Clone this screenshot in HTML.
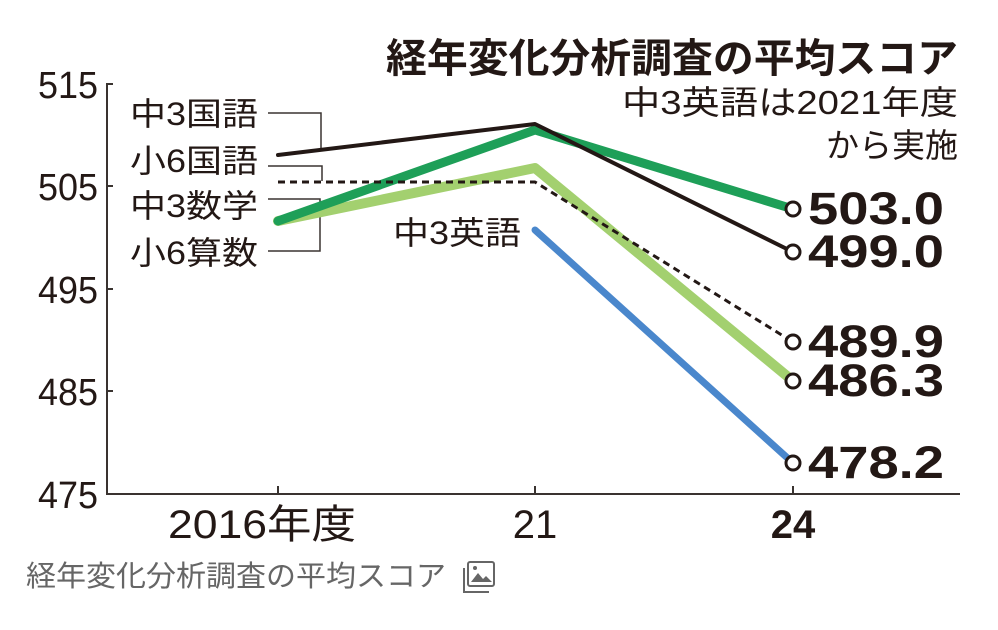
<!DOCTYPE html>
<html><head><meta charset="utf-8"><style>
body{margin:0;background:#fff;}
svg{display:block;font-family:"Liberation Sans","Noto Sans CJK JP",sans-serif;}
</style></head><body>
<svg width="998" height="630" viewBox="0 0 998 630">
<rect width="998" height="630" fill="#fff"/>
<!-- title -->
<text x="958" y="72" text-anchor="end" font-size="40" font-weight="bold" fill="#231815" textLength="572" lengthAdjust="spacingAndGlyphs">経年変化分析調査の平均スコア</text>
<text x="958" y="114" text-anchor="end" font-size="33" fill="#231815" textLength="336" lengthAdjust="spacingAndGlyphs">中3英語は2021年度</text>
<text x="958" y="157" text-anchor="end" font-size="33" fill="#231815">から実施</text>
<!-- axes -->
<g stroke="#3a3330" stroke-width="2" fill="none">
<path d="M113 84 H107 V494 H960"/>
<path d="M107 186 H113 M107 289 H113 M107 391 H113"/>
<path d="M278 494 V486 M535 494 V486 M793 494 V486"/>
</g>
<g font-size="38" fill="#231815" text-anchor="end">
<text x="98" y="98" textLength="60" lengthAdjust="spacingAndGlyphs">515</text>
<text x="98" y="200" textLength="60" lengthAdjust="spacingAndGlyphs">505</text>
<text x="98" y="303" textLength="60" lengthAdjust="spacingAndGlyphs">495</text>
<text x="98" y="405" textLength="60" lengthAdjust="spacingAndGlyphs">485</text>
<text x="98" y="508" textLength="60" lengthAdjust="spacingAndGlyphs">475</text>
</g>
<g font-size="40" fill="#231815" text-anchor="middle">
<text x="262" y="538" textLength="188" lengthAdjust="spacingAndGlyphs">2016年度</text>
<text x="535" y="538">21</text>
<text x="793" y="538" font-weight="bold">24</text>
</g>
<!-- legend labels -->
<g font-size="32" fill="#231815">
<text x="130" y="125" textLength="128" lengthAdjust="spacingAndGlyphs">中3国語</text>
<text x="130" y="172" textLength="128" lengthAdjust="spacingAndGlyphs">小6国語</text>
<text x="130" y="217" textLength="128" lengthAdjust="spacingAndGlyphs">中3数学</text>
<text x="130" y="264" textLength="128" lengthAdjust="spacingAndGlyphs">小6算数</text>
<text x="393" y="244" textLength="128" lengthAdjust="spacingAndGlyphs">中3英語</text>
</g>
<g stroke="#3a3330" stroke-width="1.5" fill="none">
<path d="M268 113 H321 V148"/>
<path d="M268 166 H322 V181"/>
<path d="M268 199 H320 V206"/>
<path d="M268 251 H320 V216"/>
</g>
<!-- series -->
<g fill="none" stroke-linecap="round" stroke-linejoin="round">
<polyline points="278,221 535,168 793,381" stroke="#a3d06f" stroke-width="10"/>
<polyline points="278,221 535,130 793,209" stroke="#1e9f58" stroke-width="9"/>
<polyline points="278,182 535,182 793,342" stroke="#231815" stroke-width="3" stroke-dasharray="7,5" stroke-linecap="butt"/>
<polyline points="278,155 535,124 793,252" stroke="#231815" stroke-width="4"/>
<polyline points="535,230 793,463" stroke="#4a87cc" stroke-width="7"/>
</g>
<g fill="#fff" stroke="#231815" stroke-width="3">
<circle cx="793" cy="209" r="7"/>
<circle cx="793" cy="252" r="7"/>
<circle cx="793" cy="342" r="7"/>
<circle cx="793" cy="381" r="7"/>
<circle cx="793" cy="463" r="7"/>
</g>
<g font-size="45" font-weight="bold" fill="#231815">
<text x="808" y="224" textLength="136" lengthAdjust="spacingAndGlyphs">503.0</text>
<text x="808" y="267" textLength="136" lengthAdjust="spacingAndGlyphs">499.0</text>
<text x="808" y="357" textLength="136" lengthAdjust="spacingAndGlyphs">489.9</text>
<text x="808" y="396" textLength="136" lengthAdjust="spacingAndGlyphs">486.3</text>
<text x="808" y="478" textLength="136" lengthAdjust="spacingAndGlyphs">478.2</text>
</g>
<!-- caption -->
<text x="26" y="586" font-size="29" fill="#666" textLength="420" lengthAdjust="spacingAndGlyphs">経年変化分析調査の平均スコア</text>
<g fill="none" stroke="#666" stroke-width="2">
<rect x="468" y="562" width="26" height="24" rx="2"/>
<path d="M464 568 V592 H489"/>
</g>
<path d="M471 582 L478 573 L483 579 L486 576 L492 582 Z" fill="#666"/>
<circle cx="475" cy="568" r="2" fill="#666"/>
</svg>
</body></html>
